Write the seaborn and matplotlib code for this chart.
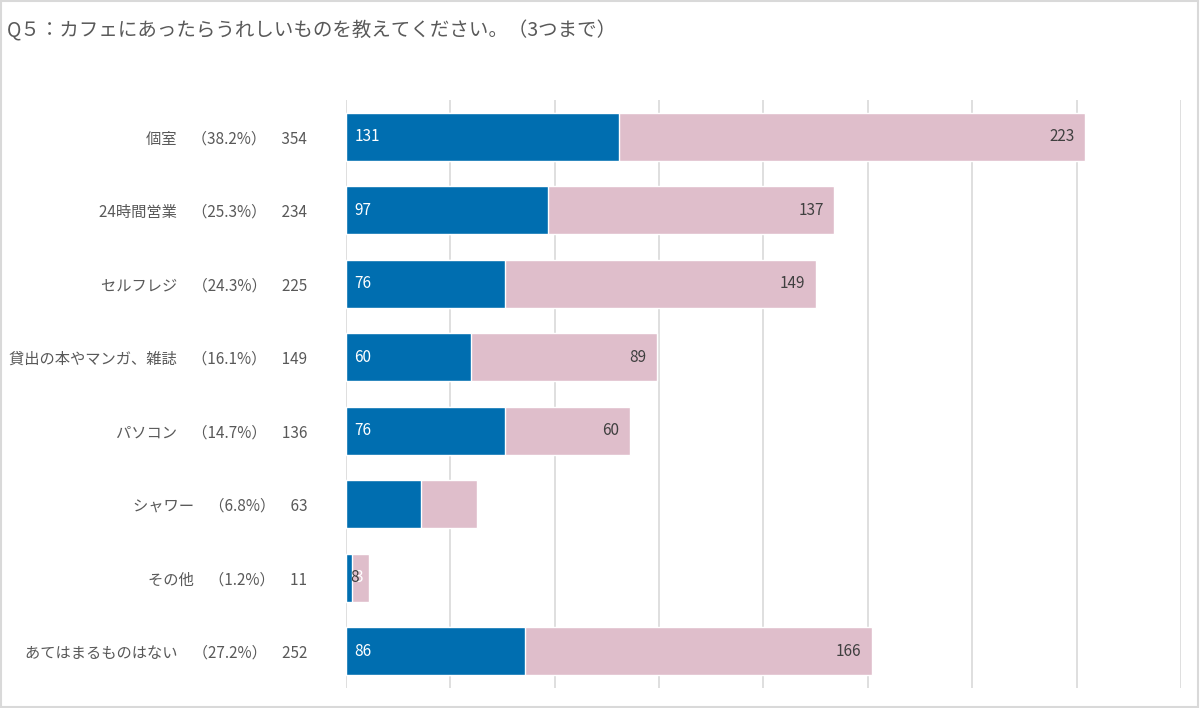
import numpy as np
import pandas as pd
import seaborn as sns
import matplotlib.pyplot as plt
from matplotlib.patches import Rectangle

# 選択肢と回答数
items = ["個室", "24時間営業", "セルフレジ", "貸出の本やマンガ、雑誌", "パソコン",
         "シャワー", "その他", "あてはまるものはない"]
pct = ["38.2%", "25.3%", "24.3%", "16.1%", "14.7%", "6.8%", "1.2%", "27.2%"]
totals = [354, 234, 225, 149, 136, 63, 11, 252]
blue_vals = [131, 97, 76, 60, 76, 36, 3, 86]
pink_vals = [223, 137, 149, 89, 60, 27, 8, 166]
show_label = [True, True, True, True, True, False, True, True]

BLUE = "#006EB0"
PINK = "#DFBECB"
GRAY = "#595959"

sns.set_theme(style="white")
plt.rcParams['font.family'] = ['Noto Sans CJK JP', 'DejaVu Sans']

ylabels = [f"{n}　（{p}）　{t}" for n, p, t in zip(items, pct, totals)]
df = pd.DataFrame({"label": ylabels, "blue": blue_vals,
                   "pink": pink_vals, "total": totals})

fig = plt.figure(figsize=(12, 7.08), dpi=100)
ax = fig.add_axes([0.2883, 0.0283, 0.6958, 0.8305])

# 合計(ピンク)を先に描き、その上に青を重ねる
sns.barplot(data=df, x="total", y="label", color=PINK, width=0.65,
            saturation=1, ax=ax, zorder=2)
sns.barplot(data=df, x="blue", y="label", color=BLUE, width=0.65,
            saturation=1, ax=ax, zorder=3)

ax.set_xlim(0, 400)
ax.set_ylim(7.5, -0.5)
ax.set_xticks(np.arange(0, 401, 50))
ax.set_xticklabels([])
ax.xaxis.grid(True, color="#D9D9D9", linewidth=1.2)
ax.set_axisbelow(True)
ax.set_xlabel("")
ax.set_ylabel("")
for s in ax.spines.values():
    s.set_visible(False)
ax.tick_params(axis="y", length=0, pad=28, labelsize=11, labelcolor=GRAY)
ax.tick_params(axis="x", length=0)

# 値ラベル (その他は参照図どおり重なる)
for i in range(len(items)):
    if not show_label[i]:
        continue
    ax.text(4, i, str(blue_vals[i]), color="white",
            fontsize=11, va="center", ha="left", zorder=5)
    ax.text(totals[i] - 5, i, str(pink_vals[i]), color="#404040",
            fontsize=11, va="center", ha="right", zorder=5)

fig.text(0.006, 0.957, "Q５：カフェにあったらうれしいものを教えてください。（3つまで）",
         fontsize=14, color=GRAY, va="center", ha="left")

fig.patches.append(Rectangle((0.001, 0.002), 0.997, 0.996, transform=fig.transFigure,
                             fill=False, edgecolor="#D9D9D9", linewidth=1.5))

fig.savefig("out.png", dpi=100)
